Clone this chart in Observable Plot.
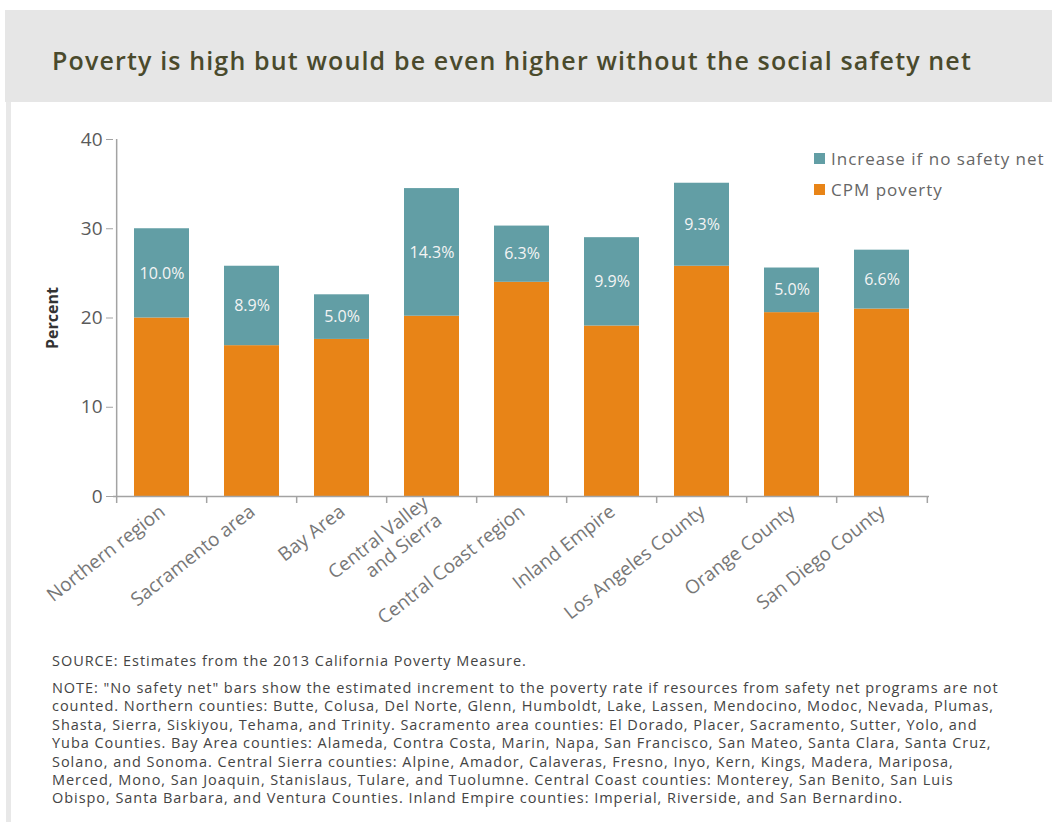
<!DOCTYPE html>
<html><head><meta charset="utf-8">
<script src="https://cdn.jsdelivr.net/npm/d3@7"></script>
<script src="https://cdn.jsdelivr.net/npm/@observablehq/plot@0.6"></script>
<style>
  body{margin:0;background:#fff;width:1052px;height:822px;overflow:hidden;position:relative;font-family:"Open Sans",sans-serif}
  #header{position:absolute;left:5px;top:10px;width:1047px;height:92px;background:#e6e6e6}
  #title{position:absolute;left:52px;top:44px;font-size:25px;font-weight:600;color:#4a4a2c;letter-spacing:1.15px;white-space:nowrap;line-height:32px}
  #strip{position:absolute;left:6px;top:102px;width:5px;height:720px;background:#e8e8e8}
  #chart{position:absolute;left:12px;top:105px}
  #legend{position:absolute;left:814px;top:143px;font-size:17px;color:#666;letter-spacing:1px}
  #legend .item{display:flex;align-items:center;height:31px;white-space:nowrap}
  #legend .sw{width:11px;height:11px;margin-right:6px}
  #notes{position:absolute;left:52px;top:651px;font-size:14.5px;color:#444;white-space:nowrap;letter-spacing:0.95px}
  #notes p{margin:0}
  #source{line-height:20px;margin-bottom:8px !important}
  #note{line-height:18.4px}
</style>
</head><body>
<div id="header"></div>
<div id="title">Poverty is high but would be even higher without the social safety net</div>
<div id="strip"></div>
<div id="chart"></div>
<div id="legend"></div>
<div id="notes">
  <p id="source">SOURCE: Estimates from the 2013 California Poverty Measure.</p>
  <p id="note">NOTE: "No safety net" bars show the estimated increment to the poverty rate if resources from safety net programs are not<br>counted. Northern counties: Butte, Colusa, Del Norte, Glenn, Humboldt, Lake, Lassen, Mendocino, Modoc, Nevada, Plumas,<br>Shasta, Sierra, Siskiyou, Tehama, and Trinity. Sacramento area counties: El Dorado, Placer, Sacramento, Sutter, Yolo, and<br>Yuba Counties. Bay Area counties: Alameda, Contra Costa, Marin, Napa, San Francisco, San Mateo, Santa Clara, Santa Cruz,<br>Solano, and Sonoma. Central Sierra counties: Alpine, Amador, Calaveras, Fresno, Inyo, Kern, Kings, Madera, Mariposa,<br>Merced, Mono, San Joaquin, Stanislaus, Tulare, and Tuolumne. Central Coast counties: Monterey, San Benito, San Luis<br>Obispo, Santa Barbara, and Ventura Counties. Inland Empire counties: Imperial, Riverside, and San Bernardino.</p>
</div>
<script>
const regions = ["Northern region","Sacramento area","Bay Area","Central Valley\nand Sierra","Central Coast region","Inland Empire","Los Angeles County","Orange County","San Diego County"];
const cpmPoverty = [20.0,16.9,17.6,20.2,24.0,19.1,25.8,20.6,21.0];
const noSafetyNetIncrease = [10.0,8.9,5.0,14.3,6.3,9.9,9.3,5.0,6.6];
const seriesNames = ["CPM poverty","Increase if no safety net"];
const seriesColors = ["#e88417","#629ea5"];
const yTicks = [0,10,20,30,40];

const rows = [];
regions.forEach((r,i)=>{
  rows.push({region:r, series:seriesNames[0], value:cpmPoverty[i]});
  rows.push({region:r, series:seriesNames[1], value:noSafetyNetIncrease[i]});
});

const W = 1040, H = 545, ML = 101, MR = 123, MT = 34, MB = 154;
const step = (W - ML - MR) / regions.length;
const axisColor = "#a3a3a3";

const chart = Plot.plot({
  width: W, height: H,
  marginLeft: ML, marginRight: MR, marginTop: MT, marginBottom: MB,
  style: {fontFamily: "Open Sans, sans-serif", background: "transparent"},
  x: {domain: regions, paddingInner: 0.39, paddingOuter: 0.195, label: null},
  y: {domain: [0, 40], label: null},
  color: {domain: seriesNames, range: seriesColors},
  marks: [
    Plot.barY(rows, {x: "region", y: "value", fill: "series", order: seriesNames}),
    Plot.text(rows, Plot.stackY({
      x: "region", y: "value", z: "series", order: seriesNames,
      text: d => d.series === seriesNames[1] ? d.value.toFixed(1) + "%" : null,
      fill: "#f4f4f4", fontSize: 16, letterSpacing: 0.8
    })),
    Plot.ruleY([0], {stroke: axisColor, strokeWidth: 1.5}),
    Plot.ruleX([regions[0]], {x: d => d, y1: 0, y2: 40, dx: -step/2, stroke: axisColor, strokeWidth: 1.5}),
    Plot.ruleX(regions, {x: d => d, y1: 0, y2: 0, dx: -step/2, insetBottom: -7, stroke: axisColor, strokeWidth: 1.5}),
    Plot.ruleX([regions[regions.length-1]], {x: d => d, y1: 0, y2: 0, dx: step/2, insetBottom: -7, stroke: axisColor, strokeWidth: 1.5}),
    Plot.axisY({ticks: yTicks, tickSize: 7, tickPadding: 4, label: null, fontSize: 19, color: "#5a5a5a", stroke: axisColor, letterSpacing: 2}),
    Plot.axisX({tickSize: 0, tickPadding: 12, tickRotate: -38, fontSize: 19, fill: "#777", letterSpacing: 1.8, lineHeight: 1.15, label: null}),
    Plot.text(["Percent"], {frameAnchor: "left", textAnchor: "middle", rotate: -90, dx: -61, fontSize: 16, fontWeight: "bold", fill: "#333"})
  ]
});
document.getElementById("chart").appendChild(chart);

const legend = document.getElementById("legend");
[1, 0].forEach(i => {
  const item = document.createElement("div");
  item.className = "item";
  const sw = document.createElement("span");
  sw.className = "sw";
  sw.style.background = seriesColors[i];
  const t = document.createElement("span");
  t.textContent = seriesNames[i];
  item.appendChild(sw); item.appendChild(t);
  legend.appendChild(item);
});
</script>
</body></html>
